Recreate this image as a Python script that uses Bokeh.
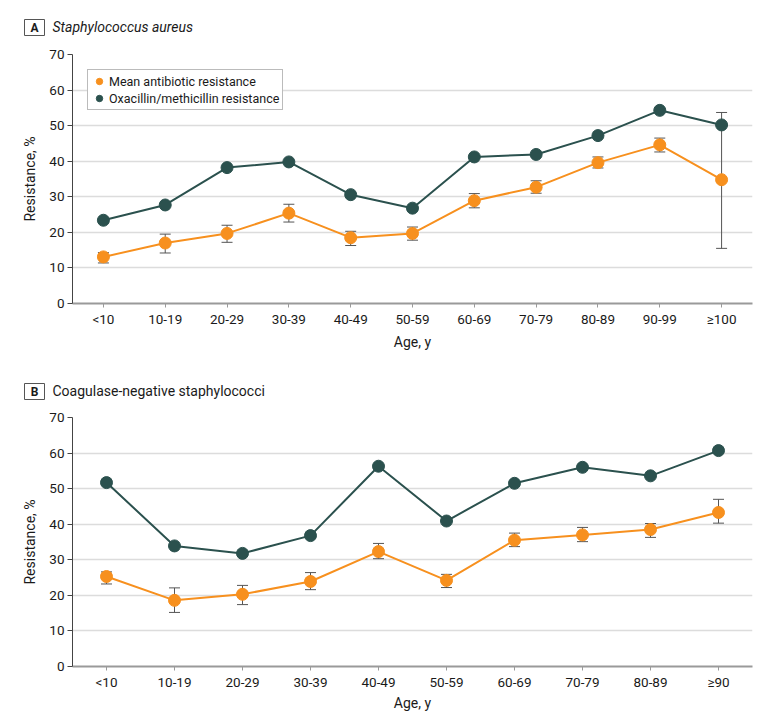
from bokeh.plotting import figure
from bokeh.models import (ColumnDataSource, Whisker, TeeHead, Legend, LegendItem,
                          FixedTicker, Range1d, FactorRange)
from bokeh.core.properties import value
from bokeh.layouts import column
from bokeh.embed import file_html
from bokeh.resources import INLINE

# ---------------- data ----------------
ages_a = ["<10", "10-19", "20-29", "30-39", "40-49", "50-59", "60-69", "70-79", "80-89", "90-99", "≥100"]
mean_a = [13.1, 17.0, 19.7, 25.4, 18.5, 19.7, 28.9, 32.7, 39.6, 44.6, 34.8]
mean_a_hi = [14.3, 19.5, 22.0, 27.9, 20.3, 21.5, 30.9, 34.5, 41.2, 46.5, 53.7]
mean_a_lo = [11.4, 14.2, 17.2, 22.9, 16.3, 17.8, 26.9, 31.0, 38.1, 42.6, 15.5]
oxa_a = [23.4, 27.7, 38.2, 39.8, 30.6, 26.8, 41.2, 41.9, 47.2, 54.3, 50.2]

ages_b = ["<10", "10-19", "20-29", "30-39", "40-49", "50-59", "60-69", "70-79", "80-89", "≥90"]
mean_b = [25.3, 18.6, 20.3, 23.9, 32.3, 24.2, 35.5, 37.0, 38.5, 43.3]
mean_b_hi = [26.6, 22.1, 22.8, 26.4, 34.6, 25.9, 37.5, 39.1, 40.2, 47.0]
mean_b_lo = [23.2, 15.2, 17.4, 21.6, 30.3, 22.2, 33.7, 35.1, 36.3, 40.3]
oxa_b = [51.7, 33.9, 31.8, 36.8, 56.3, 40.9, 51.5, 56.0, 53.6, 60.7]

y_ticks = [0, 10, 20, 30, 40, 50, 60, 70]

ORANGE = "#F7901E"
DARK = "#2B514E"
FONT = "Roboto"
TXT = "#1a1a1a"
W = 772


def make_header(letter, title, italic, height, cy):
    h = figure(width=W, height=height, x_range=Range1d(0, W), y_range=Range1d(height, 0),
               output_backend="svg", toolbar_location=None,
               x_axis_type=None, y_axis_type=None,
               min_border_left=0, min_border_right=0, min_border_top=0, min_border_bottom=0)
    h.frame_align = False
    h.outline_line_color = None
    h.grid.visible = False
    h.rect(x=[34], y=[cy], width=20, height=16, fill_color="white",
           line_color="#555555", line_width=1)
    h.text(x=[34], y=[cy], text=[letter], text_font=value(FONT), text_font_style="bold",
           text_font_size="12px", text_align="center", text_baseline="middle",
           text_color=TXT)
    h.text(x=[52], y=[cy - 1], text=[title], text_font=value(FONT),
           text_font_style="italic" if italic else "normal",
           text_font_size="14px", text_align="left", text_baseline="middle",
           text_color=TXT)
    return h


def make_panel(ages, mean, hi, lo, oxa, height, b_bottom, label_standoff, legend):
    p = figure(x_range=FactorRange(*ages, range_padding=0),
               y_range=Range1d(0, 70), width=W, height=height,
               output_backend="svg", toolbar_location=None,
               min_border_left=72, min_border_right=W - 72 - 680,
               min_border_top=8, min_border_bottom=b_bottom)
    p.outline_line_color = None
    p.background_fill_color = "white"
    p.xgrid.grid_line_color = None
    p.ygrid.grid_line_color = "#dcdcdc"
    p.ygrid.grid_line_width = 1.5
    p.yaxis.ticker = FixedTicker(ticks=y_ticks)
    p.yaxis.minor_tick_line_color = None

    for ax in (p.xaxis[0], p.yaxis[0]):
        ax.major_label_text_font = FONT
        ax.axis_label_text_font = FONT
        ax.axis_label_text_font_style = "normal"
        ax.major_label_text_color = TXT
        ax.axis_label_text_color = TXT
        ax.axis_label_text_font_size = "14px"

    p.xaxis.axis_label = "Age, y"
    p.xaxis.major_label_text_font_size = "13.5px"
    p.xaxis.axis_line_color = "#9a9a9a"
    p.xaxis.axis_line_width = 2
    p.xaxis.major_tick_line_color = "#9a9a9a"
    p.xaxis.major_tick_in = 0
    p.xaxis.major_tick_out = 4
    p.xaxis.major_label_standoff = 3
    p.xaxis.axis_label_standoff = label_standoff

    p.yaxis.axis_label = "Resistance, %"
    p.yaxis.major_label_text_font_size = "13.5px"
    p.yaxis.axis_line_color = "#444444"
    p.yaxis.major_tick_line_color = "#444444"
    p.yaxis.major_tick_in = 0
    p.yaxis.major_tick_out = 5
    p.yaxis.major_label_standoff = 3
    p.yaxis.axis_label_standoff = 8

    src = ColumnDataSource(dict(x=ages, mean=mean, hi=hi, lo=lo, oxa=oxa))

    w = Whisker(base="x", upper="hi", lower="lo", source=src, dimension="height",
                line_color="#555555", line_width=1, level="underlay",
                upper_head=TeeHead(size=11, line_color="#555555", line_width=1),
                lower_head=TeeHead(size=11, line_color="#555555", line_width=1))
    p.add_layout(w)

    p.line("x", "oxa", source=src, line_color=DARK, line_width=2)
    r_oxa = p.scatter("x", "oxa", source=src, size=12, fill_color=DARK, line_color=DARK)
    p.line("x", "mean", source=src, line_color=ORANGE, line_width=2)
    r_mean = p.scatter("x", "mean", source=src, size=12, fill_color=ORANGE, line_color=ORANGE)

    if legend:
        lg = Legend(items=[LegendItem(label="Mean antibiotic resistance", renderers=[r_mean]),
                           LegendItem(label="Oxacillin/methicillin resistance", renderers=[r_oxa])],
                    location="top_left", margin=15, padding=3, spacing=1,
                    glyph_width=16, glyph_height=16, label_height=16,
                    label_standoff=2, border_line_color="#777777",
                    label_text_font=FONT, label_text_font_size="12.5px",
                    label_text_color=TXT, background_fill_alpha=1)
        p.add_layout(lg)
    return p


ha = make_header("A", "Staphylococcus aureus", True, 46, 27)
pa = make_panel(ages_a, mean_a, mean_a_hi, mean_a_lo, oxa_a, 324, 67, 4, True)
hb = make_header("B", "Coagulase-negative staphylococci", False, 39, 21)
pb = make_panel(ages_b, mean_b, mean_b_hi, mean_b_lo, oxa_b, 307, 50, 2, False)

layout = column(ha, pa, hb, pb, spacing=0)
open("out.html", "w").write(file_html(layout, INLINE))
